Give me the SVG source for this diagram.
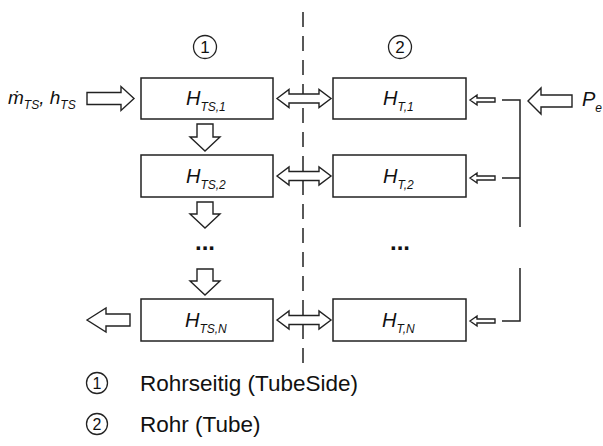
<svg xmlns="http://www.w3.org/2000/svg" width="603" height="446" viewBox="0 0 603 446">
<style>
.box{fill:#fff;stroke:#222;stroke-width:1.5}
.arr{fill:#fff;stroke:#222;stroke-width:1.4;stroke-linejoin:miter}
.ln{fill:none;stroke:#222;stroke-width:1.5}
.dash{fill:none;stroke:#222;stroke-width:1.5;stroke-dasharray:15 9}
.t{font-family:"Liberation Sans",Arial,sans-serif;fill:#111}
.it{font-style:italic}
.h{font-size:20px}
.sub{font-size:12px}
.num{font-size:17px}
.leg{font-size:22.5px}
.dots{font-size:24px;font-weight:bold}
.circ{fill:none;stroke:#222;stroke-width:1.3}
</style>
<rect width="603" height="446" fill="#fff"/>
<g id="connectors">
  <line class="dash" x1="303" y1="12" x2="303" y2="366"/>
  <path class="arr" d="M277,98.5 L289,89.5 L289,94 L319,94 L319,89.5 L331,98.5 L319,107.5 L319,103 L289,103 L289,107.5 Z"/>
  <path class="arr" d="M277,176 L289,167 L289,171.5 L319,171.5 L319,167 L331,176 L319,185 L319,180.5 L289,180.5 L289,185 Z"/>
  <path class="arr" d="M277,320 L289,311 L289,315.5 L319,315.5 L319,311 L331,320 L319,329 L319,324.5 L289,324.5 L289,329 Z"/>
  <path class="arr" d="M87,98.5 L87,92.5 L121,92.5 L121,86.5 L134,98.5 L121,110.5 L121,104.5 L87,104.5 Z"/>
  <path class="arr" d="M197,124 L213,124 L213,137 L220,137 L205,151 L190,137 L197,137 Z"/>
  <path class="arr" d="M197,202 L213,202 L213,214 L220,214 L205,228 L190,214 L197,214 Z"/>
  <path class="arr" d="M197,269 L213,269 L213,281 L220,281 L205,295 L190,281 L197,281 Z"/>
  <path class="arr" d="M87,320 L106,308 L106,314 L130,314 L130,326 L106,326 L106,332 Z"/>
  <path class="arr" d="M470,100 L477,95 L477,98 L495,98 L495,102 L477,102 L477,105 Z"/>
  <path class="arr" d="M470,178 L477,173 L477,176 L495,176 L495,180 L477,180 L477,183 Z"/>
  <path class="arr" d="M470,321 L477,316 L477,319 L495,319 L495,323 L477,323 L477,326 Z"/>
  <path class="ln" d="M502,100 H520 V227 M502,178 H520 M520,268 V321 H502"/>
  <path class="arr" d="M528,101 L541,88 L541,95 L572,95 L572,107 L541,107 L541,114 Z"/>
</g>
<g id="n-ts1"><rect class="box" x="141" y="78" width="132" height="41"/>
  <text class="t it h" x="186" y="105">H<tspan class="sub" dy="6">TS,1</tspan></text></g>
<g id="n-ts2"><rect class="box" x="141" y="155" width="132" height="42"/>
  <text class="t it h" x="186" y="183">H<tspan class="sub" dy="6">TS,2</tspan></text></g>
<g id="n-tsn"><rect class="box" x="141" y="299" width="132" height="42"/>
  <text class="t it h" x="185" y="327">H<tspan class="sub" dy="6">TS,N</tspan></text></g>
<g id="n-t1"><rect class="box" x="333" y="78" width="133" height="41"/>
  <text class="t it h" x="383" y="105">H<tspan class="sub" dy="6">T,1</tspan></text></g>
<g id="n-t2"><rect class="box" x="333" y="155" width="133" height="42"/>
  <text class="t it h" x="383" y="183">H<tspan class="sub" dy="6">T,2</tspan></text></g>
<g id="n-tn"><rect class="box" x="333" y="299" width="133" height="42"/>
  <text class="t it h" x="382" y="327">H<tspan class="sub" dy="6">T,N</tspan></text></g>
<g id="labels">
  <circle class="circ" cx="205" cy="47" r="11.5"/>
  <text class="t num" x="205" y="53" text-anchor="middle">1</text>
  <circle class="circ" cx="400" cy="47" r="11.5"/>
  <text class="t num" x="400" y="53" text-anchor="middle">2</text>
  <text class="t dots" x="205" y="250" text-anchor="middle">...</text>
  <text class="t dots" x="400" y="250" text-anchor="middle">...</text>
  <text class="t it" x="8" y="104" font-size="19">ṁ<tspan class="sub" dy="5">TS</tspan><tspan dy="-5">, h</tspan><tspan class="sub" dy="5">TS</tspan></text>
  <text class="t it" x="582" y="106" font-size="20">P<tspan class="sub" dy="6">e</tspan></text>
</g>
<g id="legend">
  <circle class="circ" cx="97" cy="383" r="10.5"/>
  <text class="t" x="97" y="389" text-anchor="middle" font-size="16">1</text>
  <text class="t leg" x="140" y="391">Rohrseitig (TubeSide)</text>
  <circle class="circ" cx="97" cy="424" r="10.5"/>
  <text class="t" x="97" y="430" text-anchor="middle" font-size="16">2</text>
  <text class="t leg" x="140" y="432">Rohr (Tube)</text>
</g>
</svg>
